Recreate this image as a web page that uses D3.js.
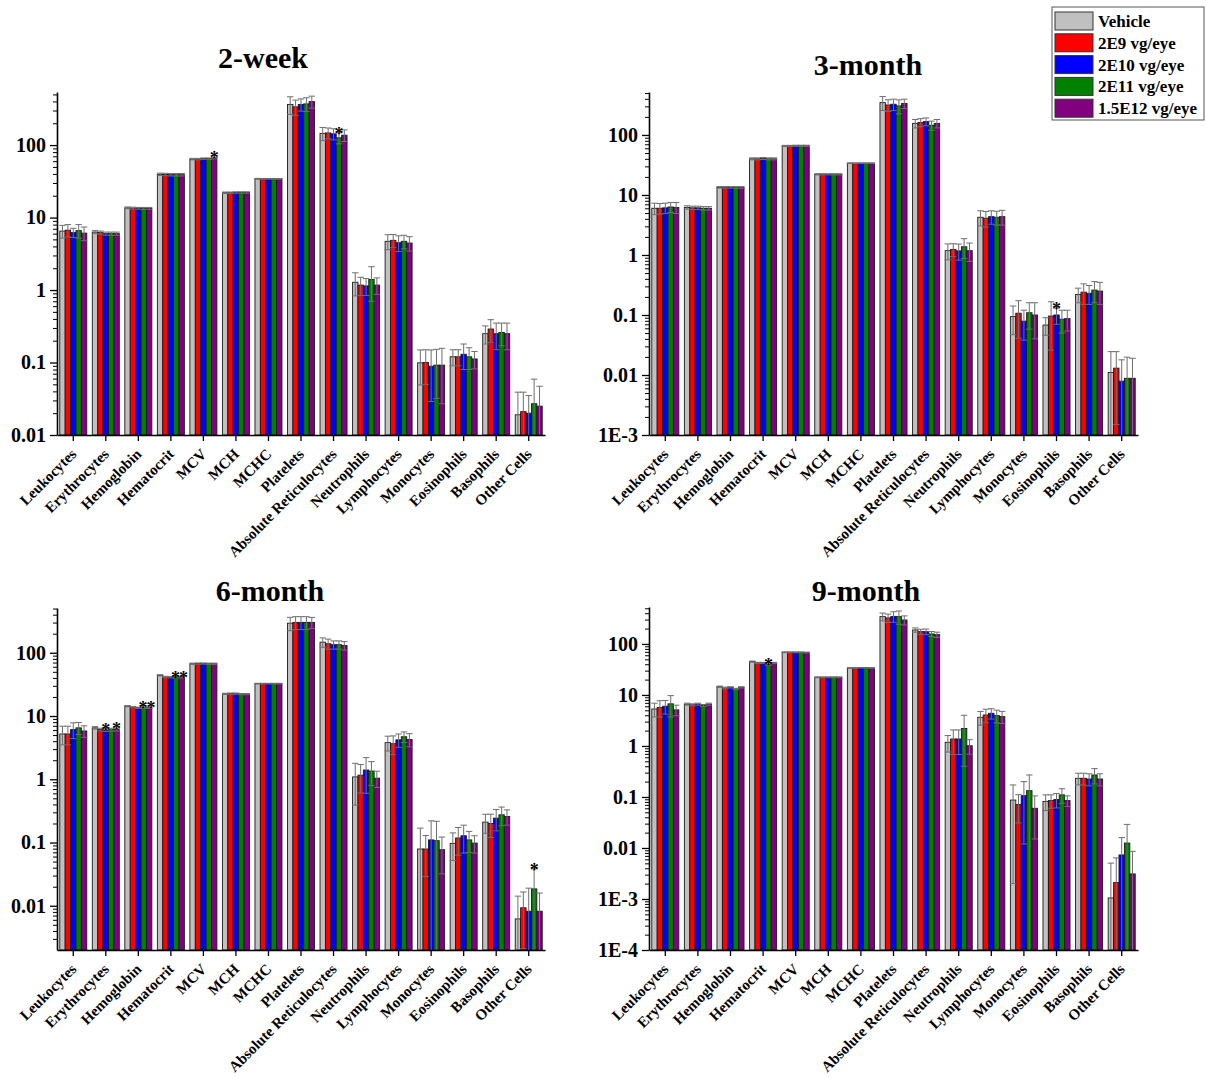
<!DOCTYPE html>
<html>
<head>
<meta charset="utf-8">
<script src="https://cdn.jsdelivr.net/npm/d3@7"></script>
<style>
  html, body { margin: 0; padding: 0; background: #fff; }
  svg text { font-family: "Liberation Serif", "Times New Roman", serif; font-weight: bold; }
</style>
</head>
<body>
<svg id="chart" width="1206" height="1078"></svg>
<script>
// Hematology parameters (x categories)
const categories = ["Leukocytes", "Erythrocytes", "Hemoglobin", "Hematocrit", "MCV", "MCH", "MCHC",
  "Platelets", "Absolute Reticulocytes", "Neutrophils", "Lymphocytes", "Monocytes", "Eosinophils",
  "Basophils", "Other Cells"];

// Dose groups
const groups = ["Vehicle", "2E9 vg/eye", "2E10 vg/eye", "2E11 vg/eye", "1.5E12 vg/eye"];
const groupColors = ["#c0c0c0", "#ff0000", "#0000ff", "#008000", "#800080"];

// Mean values, one row per dose group, one column per category
const week2Means = [
  [6.5, 6.3, 13.6, 39.5, 64, 22, 34.3, 364, 145, 1.28, 4.7, 0.099, 0.12, 0.25, 0.019],
  [6.7, 6.2, 13.5, 39.3, 64, 22, 34.2, 337, 147, 1.17, 4.85, 0.1, 0.12, 0.29, 0.021],
  [6.2, 6.0, 13.4, 39.0, 65, 22.2, 34.2, 364, 143, 1.14, 4.5, 0.089, 0.13, 0.25, 0.020],
  [6.6, 6.0, 13.4, 39.0, 65, 22.2, 34.2, 370, 126, 1.40, 4.7, 0.092, 0.12, 0.26, 0.027],
  [6.1, 6.0, 13.4, 39.0, 66, 22.2, 34.2, 398, 137, 1.17, 4.45, 0.092, 0.112, 0.25, 0.025]
];
const week2Errs = [
  [1.3, 0.3, 0.4, 1.5, 1.5, 0.5, 0.4, 100, 30, 0.45, 1.1, 0.05, 0.03, 0.07, 0.02],
  [1.3, 0.3, 0.4, 1.5, 1.5, 0.5, 0.4, 80, 25, 0.33, 1.0, 0.05, 0.03, 0.1, 0.018],
  [0.9, 0.3, 0.4, 1.5, 1.5, 0.5, 0.4, 70, 25, 0.3, 1.1, 0.06, 0.05, 0.1, 0.015],
  [1.4, 0.3, 0.4, 1.5, 1.5, 0.5, 0.4, 80, 22, 0.7, 1.0, 0.06, 0.04, 0.09, 0.032],
  [1.3, 0.3, 0.4, 1.5, 1.5, 0.5, 0.4, 75, 25, 0.3, 1.0, 0.065, 0.03, 0.1, 0.022]
];
const week2Stars = [[4, 4], [8, 3]];

const month3Means = [
  [6.0, 6.2, 13.4, 40, 65.6, 22.1, 33.8, 346, 156, 1.18, 4.25, 0.094, 0.068, 0.22, 0.011],
  [6.0, 6.1, 13.4, 40, 65.6, 22.1, 33.8, 316, 162, 1.24, 4.1, 0.107, 0.096, 0.24, 0.013],
  [6.1, 6.1, 13.4, 40.5, 66, 22.1, 33.8, 325, 167, 1.17, 4.35, 0.079, 0.1, 0.23, 0.0079],
  [6.3, 6.0, 13.4, 40, 66, 22.1, 33.8, 305, 145, 1.37, 4.25, 0.109, 0.085, 0.26, 0.0088],
  [6.2, 6.0, 13.4, 40, 66, 22.1, 33.8, 335, 156, 1.18, 4.35, 0.1, 0.087, 0.25, 0.0088]
];
const month3Errs = [
  [1.3, 0.4, 0.4, 1.5, 1.5, 0.5, 0.4, 90, 25, 0.35, 1.2, 0.047, 0.022, 0.06, 0.0135],
  [1.2, 0.4, 0.4, 1.5, 1.5, 0.5, 0.4, 70, 25, 0.3, 1.2, 0.066, 0.07, 0.09, 0.0115],
  [1.2, 0.4, 0.4, 1.5, 1.5, 0.5, 0.4, 70, 25, 0.35, 1.1, 0.041, 0.03, 0.08, 0.01],
  [1.2, 0.4, 0.4, 1.5, 1.5, 0.5, 0.4, 80, 25, 0.5, 1.1, 0.051, 0.035, 0.1, 0.011],
  [1.3, 0.4, 0.4, 1.5, 1.5, 0.5, 0.4, 60, 25, 0.4, 1.2, 0.06, 0.033, 0.1, 0.0102]
];
const month3Stars = [[12, 2]];

const month6Means = [
  [5.2, 6.5, 14.3, 44, 67, 22.4, 32.5, 293, 147, 1.09, 3.8, 0.079, 0.097, 0.21, 0.0062],
  [5.2, 6.1, 13.8, 41.4, 67.5, 22.6, 32.5, 302, 139, 1.16, 3.65, 0.079, 0.118, 0.2, 0.0093],
  [6.1, 6.0, 13.5, 41, 67.5, 22.6, 32.5, 302, 134, 1.40, 4.2, 0.11, 0.128, 0.243, 0.0082],
  [6.5, 6.1, 13.5, 41, 67, 22.2, 32.5, 302, 134, 1.35, 4.7, 0.107, 0.11, 0.274, 0.0185],
  [5.8, 6.1, 13.5, 41, 67, 22.2, 32.5, 302, 130, 1.04, 4.26, 0.077, 0.098, 0.258, 0.0082]
];
const month6Errs = [
  [1.7, 0.3, 0.3, 1.0, 1.5, 0.5, 0.4, 70, 25, 0.7, 1.0, 0.09, 0.045, 0.07, 0.008],
  [1.7, 0.3, 0.3, 1.0, 1.5, 0.5, 0.4, 70, 25, 0.55, 1.2, 0.05, 0.055, 0.08, 0.0072],
  [1.7, 0.3, 0.3, 1.0, 1.5, 0.5, 0.4, 70, 20, 0.8, 1.0, 0.11, 0.06, 0.09, 0.0108],
  [1.4, 0.3, 0.3, 1.0, 1.5, 0.5, 0.4, 70, 20, 0.55, 0.9, 0.11, 0.04, 0.09, 0.0198],
  [1.2, 0.3, 0.3, 1.0, 1.5, 0.5, 0.4, 60, 20, 0.3, 1.0, 0.045, 0.03, 0.07, 0.0077]
];
const month6Stars = [[1, 2], [1, 4], [2, 3], [2, 4], [3, 3], [3, 4], [14, 3]];

const month9Means = [
  [5.3, 6.6, 14.5, 45, 68.7, 22.2, 33.8, 343, 188, 1.18, 3.65, 0.087, 0.082, 0.232, 0.00105],
  [5.7, 6.4, 13.7, 42.4, 68.7, 22.2, 33.8, 324, 174, 1.37, 4.05, 0.071, 0.085, 0.232, 0.0021],
  [6.0, 6.6, 14.1, 42.4, 68.5, 22.2, 34.2, 347, 174, 1.37, 4.37, 0.106, 0.089, 0.225, 0.0073],
  [6.7, 6.2, 13.1, 39.3, 68.5, 22.2, 34.2, 343, 157, 2.2, 3.93, 0.133, 0.11, 0.27, 0.0125],
  [5.1, 6.6, 14.1, 42.4, 68.0, 22.2, 33.8, 295, 152, 1.01, 3.76, 0.06, 0.085, 0.225, 0.0031]
];
const month9Errs = [
  [1.6, 0.3, 0.4, 1.2, 1.2, 0.4, 0.4, 60, 18, 0.42, 1.1, 0.085, 0.028, 0.06, 0.0040],
  [2.0, 0.3, 0.5, 1.2, 1.2, 0.4, 0.4, 60, 20, 0.69, 1.2, 0.04, 0.025, 0.06, 0.0043],
  [1.8, 0.3, 0.4, 1.2, 1.2, 0.4, 0.4, 80, 22, 0.69, 1.0, 0.094, 0.028, 0.06, 0.0087],
  [3.0, 0.3, 0.4, 1.2, 1.2, 0.4, 0.4, 100, 18, 1.8, 1.1, 0.137, 0.035, 0.09, 0.0165],
  [1.2, 0.3, 0.4, 1.2, 1.2, 0.4, 0.4, 60, 18, 0.32, 1.0, 0.045, 0.02, 0.06, 0.0055]
];
const month9Stars = [[3, 3]];

const panelTitles = ["2-week", "3-month", "6-month", "9-month"];

// Panel frames and value ranges of the log axes
const panels = [
  { title: panelTitles[0], means: week2Means, errs: week2Errs, stars: week2Stars,
    left: 57, right: 545, top: 92, bottom: 435, domain: [0.01, 540], titleX: 263, titleY: 68 },
  { title: panelTitles[1], means: month3Means, errs: month3Errs, stars: month3Stars,
    left: 649, right: 1138, top: 92, bottom: 435, domain: [0.001, 520], titleX: 868, titleY: 75 },
  { title: panelTitles[2], means: month6Means, errs: month6Errs, stars: month6Stars,
    left: 57, right: 545, top: 608, bottom: 950, domain: [0.002, 510], titleX: 270, titleY: 601 },
  { title: panelTitles[3], means: month9Means, errs: month9Errs, stars: month9Stars,
    left: 649, right: 1138, top: 607, bottom: 950, domain: [0.0001, 530], titleX: 866, titleY: 601 }
];

const svg = d3.select("#chart");

function fmtTick(v) {
  const e = Math.round(Math.log10(v));
  if (e <= -3) return "1E" + e;
  return d3.format("~g")(v);
}

panels.forEach(p => {
  const g = svg.append("g");
  const y = d3.scaleLog().domain(p.domain).range([p.bottom, p.top]);
  const x = d3.scaleBand().domain(categories).range([p.left, p.right])
    .paddingInner(0.17).paddingOuter(0.085);
  const xs = d3.scaleBand().domain(groups).range([0, x.bandwidth()]);

  // Bars
  groups.forEach((grp, si) => {
    const bars = g.append("g");
    categories.forEach((cat, ci) => {
      const v = p.means[si][ci];
      bars.append("rect")
        .attr("x", x(cat) + xs(grp))
        .attr("y", y(v))
        .attr("width", xs.bandwidth())
        .attr("height", p.bottom - y(v))
        .attr("fill", groupColors[si])
        .attr("stroke", "#1a1a1a")
        .attr("stroke-width", 0.9);
    });
  });

  // Error bars
  groups.forEach((grp, si) => {
    categories.forEach((cat, ci) => {
      const v = p.means[si][ci], e = p.errs[si][ci];
      const cx = x(cat) + xs(grp) + xs.bandwidth() / 2;
      const hi = y(v + e);
      const lo = y(Math.max(v - e, p.domain[0]));
      const hw = xs.bandwidth() / 2 + 0.5;
      const eg = g.append("g").attr("stroke", "#6e6e6e").attr("stroke-width", 1);
      eg.append("line").attr("x1", cx).attr("x2", cx).attr("y1", hi).attr("y2", lo);
      eg.append("line").attr("x1", cx - hw).attr("x2", cx + hw).attr("y1", hi).attr("y2", hi);
      if (v - e > p.domain[0]) {
        eg.append("line").attr("x1", cx - hw).attr("x2", cx + hw).attr("y1", lo).attr("y2", lo);
      }
    });
  });

  // Significance markers; markers on neighbouring bars of one category share one label
  const byCat = d3.group(p.stars, d => d[0]);
  byCat.forEach((list, ci) => {
    const sorted = list.map(d => d[1]).sort((a, b) => a - b);
    const runs = [];
    sorted.forEach(si => {
      const last = runs[runs.length - 1];
      if (last && si === last[last.length - 1] + 1) last.push(si); else runs.push([si]);
    });
    runs.forEach(run => {
      const cat = categories[ci];
      const cx = d3.mean(run, si => x(cat) + xs(groups[si]) + xs.bandwidth() / 2);
      const top = d3.min(run, si => y(p.means[si][ci] + p.errs[si][ci]));
      g.append("text").attr("x", cx).attr("y", top + 7)
        .attr("text-anchor", "middle").attr("font-size", 18)
        .attr("letter-spacing", run.length > 1 ? -1 : 0)
        .text("*".repeat(run.length));
    });
  });

  // Y axis: decades with labels, minor ticks between
  const lo = Math.floor(Math.log10(p.domain[0]) + 1e-9);
  const hi = Math.ceil(Math.log10(p.domain[1]));
  const majors = [], minors = [];
  for (let e = lo; e <= hi; e++) {
    const b = Math.pow(10, e);
    if (b >= p.domain[0] * 0.999 && b <= p.domain[1]) majors.push(b);
    for (let k = 2; k <= 9; k++) {
      const m = k * b;
      if (m > p.domain[0] * 1.001 && m < p.domain[1]) minors.push(m);
    }
  }
  const yMinor = g.append("g").attr("transform", `translate(${p.left},0)`)
    .call(d3.axisLeft(y).tickValues(minors).tickSize(4).tickFormat(""));
  yMinor.select(".domain").remove();
  const yAxis = g.append("g").attr("transform", `translate(${p.left},0)`)
    .call(d3.axisLeft(y).tickValues(majors).tickSize(7).tickSizeOuter(0).tickPadding(4).tickFormat(fmtTick));
  yAxis.selectAll("text").attr("font-size", 20).attr("fill", "#000");
  yAxis.selectAll("line, path").attr("stroke", "#000").attr("stroke-width", 1.3);
  yMinor.selectAll("line").attr("stroke", "#000").attr("stroke-width", 1);
  yAxis.select(".domain").attr("stroke-width", 1.6);

  // X axis
  const xAxis = g.append("g").attr("transform", `translate(0,${p.bottom})`)
    .call(d3.axisBottom(x).tickSize(6).tickSizeOuter(0));
  xAxis.select(".domain").attr("stroke", "#000").attr("stroke-width", 1.6);
  xAxis.selectAll("line").attr("stroke", "#000").attr("stroke-width", 1.3);
  xAxis.selectAll("text")
    .attr("font-size", 15).attr("fill", "#000")
    .attr("text-anchor", "end")
    .attr("dy", null).attr("y", 0)
    .attr("transform", "translate(4,20) rotate(-45)");

  // Panel title
  g.append("text").attr("x", p.titleX).attr("y", p.titleY)
    .attr("text-anchor", "middle").attr("font-size", 30).text(p.title);
});

// Legend
const legend = svg.append("g").attr("transform", "translate(1052,7)");
legend.append("rect").attr("width", 152).attr("height", 113)
  .attr("fill", "#fff").attr("stroke", "#555").attr("stroke-width", 1);
groups.forEach((grp, i) => {
  const row = legend.append("g").attr("transform", `translate(0,${5 + i * 21.8})`);
  row.append("rect").attr("x", 3).attr("y", 0).attr("width", 38).attr("height", 18)
    .attr("fill", groupColors[i]).attr("stroke", "#333").attr("stroke-width", 1);
  row.append("text").attr("x", 46).attr("y", 15).attr("font-size", 17).text(grp);
});
</script>
</body>
</html>
